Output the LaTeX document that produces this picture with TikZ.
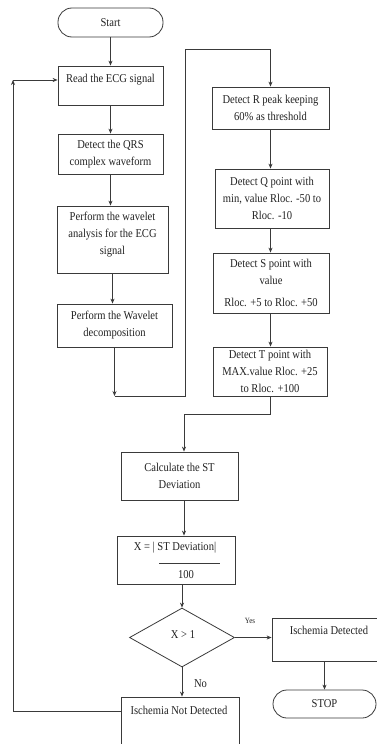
\documentclass[tikz,border=0pt]{standalone}
\usepackage{fontspec}
\setmainfont[FakeStretch=0.88]{Liberation Serif}
\usetikzlibrary{arrows.meta,shapes.geometric}
\definecolor{lc}{HTML}{3A3A3A}
\definecolor{tc}{HTML}{222222}
\newcommand\myfs{\fontsize{12}{17}\selectfont}
\begin{document}
\begin{tikzpicture}[x=1pt,y=-1pt,
  box/.style={draw=lc, line width=0.8pt, rectangle, inner sep=0pt, align=center, font=\myfs, text=tc},
  term/.style={box, rounded corners=14pt},
  txt/.style={inner sep=0pt, align=center, font=\myfs, text=tc},
  arr/.style={draw=lc, line width=0.8pt, -{Stealth[length=5pt,width=4pt]}},
  ln/.style={draw=lc, line width=0.8pt}]
\useasboundingbox (0,0) rectangle (377,744);
\clip (0,0) rectangle (377,744);
\fill[white] (0,0) rectangle (377,744);

% left column
\node[term, minimum width=105pt, minimum height=29pt] (start) at (110.5,22.5) {Start};
\node[box, minimum width=105pt, minimum height=39pt] (read) at (110.5,85.5) {};
\node[txt] (readt) at (110.5,80) {Read the ECG signal};
\node[box, minimum width=105pt, minimum height=40pt] (qrs) at (110.5,154) {Detect the QRS\\complex waveform};
\node[box, minimum width=111pt, minimum height=67pt] (wav) at (112.5,239.5) {};
\node[txt] (wavt) at (112.5,235) {Perform the wavelet\\analysis for the ECG\\signal};
\node[box, minimum width=115pt, minimum height=43pt] (dec) at (114.5,325.5) {Perform the Wavelet\\decomposition};

% right column
\node[box, minimum width=117pt, minimum height=42pt] (rr) at (270.5,108) {Detect R peak keeping\\60\% as threshold};
\node[box, minimum width=114pt, minimum height=59pt] (qq) at (272,198.5) {Detect Q point with\\min, value Rloc. -50 to\\Rloc. -10};
\node[box, minimum width=116pt, minimum height=60pt] (ss) at (271,283) {Detect S point with\\value\\[5pt]Rloc. +5 to Rloc. +50};
\node[box, minimum width=114pt, minimum height=49pt] (tt) at (270,371.5) {Detect T point with\\MAX.value Rloc. +25\\to Rloc. +100};

% lower part
\node[box, minimum width=117pt, minimum height=48pt] (calc) at (179.5,476) {Calculate the ST\\Deviation};
\node[box, minimum width=118pt, minimum height=48pt] (xb) at (176,560) {};
\node[txt] (xnum) at (175,548) {X = | ST Deviation|};
\coordinate (fl) at (159,563);
\coordinate (fr) at (220,563);
\draw[ln] (fl) -- (fr);
\node[txt] (xden) at (186,575) {100};
\node[draw=lc, line width=0.8pt, diamond, aspect=1.78, minimum width=105pt, minimum height=59pt, inner sep=0pt] (dia) at (182,637.5) {};
\node[txt] (diat) at (183,635) {X {>} 1};
\node[box, minimum width=110pt, minimum height=43pt] (isd) at (327,639.5) {};
\node[txt] (isdt) at (329,630) {Ischemia Detected};
\node[term, minimum width=103pt, minimum height=28pt] (stop) at (324.5,704) {STOP};
\node[box, minimum width=118pt, minimum height=70pt] (ind) at (180,732) {};
\node[txt] (indt) at (179,710) {Ischemia Not Detected};
\node[txt, font=\fontsize{8}{10}\selectfont] (yes) at (250,621) {Yes};
\node[txt] (no) at (200.5,684) {No};

% connectors left column
\draw[arr] (start) -- (read);
\draw[arr] (read) -- (qrs);
\draw[arr] (qrs.south) -- (qrs.south |- wav.north);
\draw[arr] (wav.south) -- (wav.south |- dec.north);
\coordinate (j2) at (185,396);
\coordinate (j3) at (185,49);
\draw[arr] (dec.south) -- (dec.south |- j2);
\draw[ln] (dec.south |- j2) -- (j2) -- (j3) -- (j3 -| rr.north);
\draw[arr] (j3 -| rr.north) -- (rr.north);

% right column
\draw[arr] (rr.south) -- (rr.south |- qq.north);
\draw[arr] (qq.south -| rr.south) -- (rr.south |- ss.north);
\draw[arr] (ss.south -| rr.south) -- (rr.south |- tt.north);
\coordinate (k1) at (184,414);
\draw[ln] (tt.south) -- (tt.south |- k1) -- (k1);
\draw[arr] (k1) -- (k1 |- calc.north);

% lower
\draw[arr] (calc.south -| k1) -- (k1 |- xb.north);
\draw[arr] (dia.north |- xb.south) -- (dia.north);
\draw[arr] (dia.east) -- (isd.west |- dia.east);
\draw[arr] (stop.north |- isd.south) -- (stop.north);
\draw[arr] (dia.south) -- (dia.south |- ind.north);

% feedback loop
\coordinate (fb1) at (13,711);
\coordinate (fb2) at (13,80);
\draw[arr] (ind.west |- fb1) -- (fb1) -- (fb2);
\draw[arr] (fb2) -- (read.west |- fb2);
\end{tikzpicture}
\end{document}
